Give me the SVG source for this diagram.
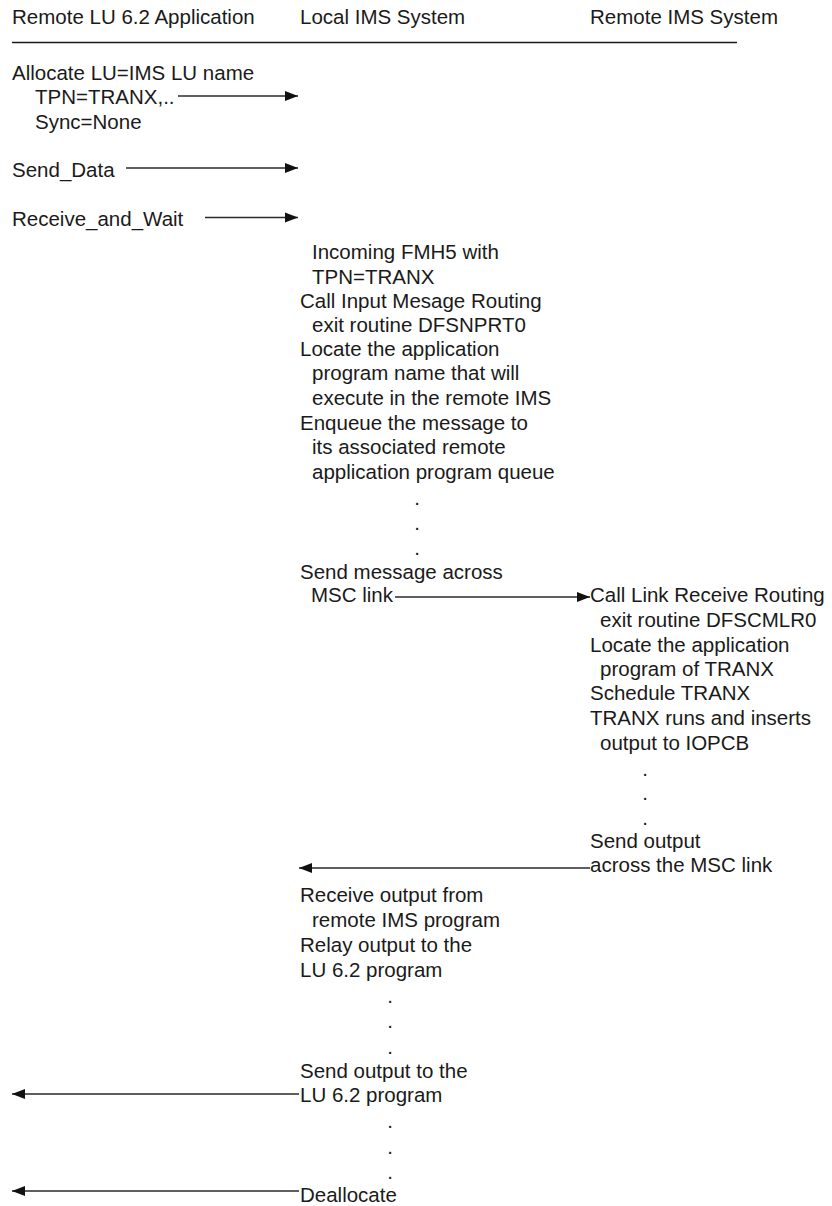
<svg xmlns="http://www.w3.org/2000/svg" width="832" height="1206" viewBox="0 0 832 1206">
<style>
text{font-family:"Liberation Sans",Arial,Helvetica,sans-serif;font-size:20.5px;fill:#1a1a1a}
.dot{text-anchor:middle}
.conn{stroke:#2a2a2a;stroke-width:1.3;fill:none}
</style>
<defs>
<marker id="ah" markerUnits="userSpaceOnUse" markerWidth="14" markerHeight="12" refX="13" refY="6" orient="auto">
<path d="M0,1 L13,6 L0,11 Z" fill="#111"/>
</marker>
</defs>
<rect width="832" height="1206" fill="#fff"/>
<g id="header">
<text x="12" y="24">Remote LU 6.2 Application</text>
<text x="300" y="24">Local IMS System</text>
<text x="590" y="24">Remote IMS System</text>
<line x1="12" y1="42.5" x2="737" y2="42.5" stroke="#1a1a1a" stroke-width="1.5"/>
</g>
<g id="lu-allocate">
<text x="12" y="80">Allocate LU=IMS LU name</text>
<text x="35" y="104">TPN=TRANX,..</text>
<text x="35" y="129">Sync=None</text>
</g>
<g id="lu-send"><text x="12" y="177">Send_Data</text></g>
<g id="lu-receive"><text x="12" y="226">Receive_and_Wait</text></g>
<g id="local-incoming">
<text x="312" y="259">Incoming FMH5 with</text>
<text x="312" y="284">TPN=TRANX</text>
<text x="300" y="308">Call Input Mesage Routing</text>
<text x="312" y="332">exit routine DFSNPRT0</text>
<text x="300" y="356">Locate the application</text>
<text x="312" y="380">program name that will</text>
<text x="312" y="405">execute in the remote IMS</text>
<text x="300" y="430">Enqueue the message to</text>
<text x="312" y="454">its associated remote</text>
<text x="312" y="479">application program queue</text>
<text class="dot" x="417" y="505">.</text>
<text class="dot" x="417" y="530">.</text>
<text class="dot" x="417" y="555">.</text>
<text x="300" y="579">Send message across</text>
<text x="311" y="602">MSC link</text>
</g>
<g id="remote-process">
<text x="590" y="602">Call Link Receive Routing</text>
<text x="600" y="627">exit routine DFSCMLR0</text>
<text x="590" y="652">Locate the application</text>
<text x="600" y="676">program of TRANX</text>
<text x="590" y="700">Schedule TRANX</text>
<text x="590" y="725">TRANX runs and inserts</text>
<text x="600" y="750">output to IOPCB</text>
<text class="dot" x="645" y="776">.</text>
<text class="dot" x="645" y="800">.</text>
<text class="dot" x="645" y="825">.</text>
<text x="590" y="848">Send output</text>
<text x="590" y="872">across the MSC link</text>
</g>
<g id="local-output">
<text x="300" y="902">Receive output from</text>
<text x="312" y="927">remote IMS program</text>
<text x="300" y="952">Relay output to the</text>
<text x="300" y="977">LU 6.2 program</text>
<text class="dot" x="390" y="1003">.</text>
<text class="dot" x="390" y="1028">.</text>
<text class="dot" x="390" y="1054">.</text>
<text x="300" y="1078">Send output to the</text>
<text x="300" y="1102">LU 6.2 program</text>
<text class="dot" x="390" y="1128">.</text>
<text class="dot" x="390" y="1154">.</text>
<text class="dot" x="390" y="1179">.</text>
<text x="300" y="1202">Deallocate</text>
</g>
<g id="connectors">
<line class="conn" x1="178" y1="96" x2="298" y2="96" marker-end="url(#ah)"/>
<line class="conn" x1="126" y1="168" x2="298" y2="168" marker-end="url(#ah)"/>
<line class="conn" x1="205" y1="217.5" x2="298" y2="217.5" marker-end="url(#ah)"/>
<line class="conn" x1="395" y1="597" x2="590" y2="597" marker-end="url(#ah)"/>
<line class="conn" x1="590" y1="868" x2="299" y2="868" marker-end="url(#ah)"/>
<line class="conn" x1="299" y1="1094" x2="12" y2="1094" marker-end="url(#ah)"/>
<line class="conn" x1="299" y1="1191" x2="12" y2="1191" marker-end="url(#ah)"/>
</g>
</svg>
